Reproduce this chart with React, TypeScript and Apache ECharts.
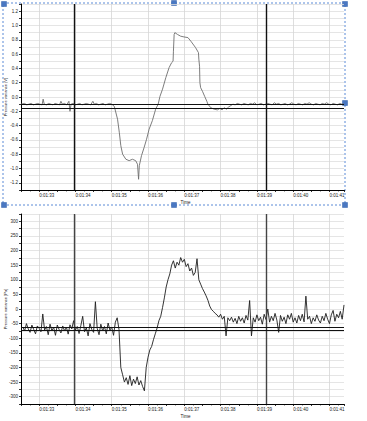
import React, { useEffect, useRef } from "react";
import * as echarts from "echarts";

// Time axis in seconds (0:01:33 = 93 s)
const timeMin = 92.5;
const timeMax = 101.4;
const cursorTimes = [93.96, 99.26];

// Top panel: pressure variance (V)
const topLevels = [-0.1, -0.16];
const topSignal: [number, number][] = [
  [92.5, -0.1], [92.6, -0.09], [92.66, -0.11], [92.72, -0.1], [92.78, -0.09], [92.84, -0.11],
  [92.9, -0.1], [92.96, -0.09], [93.02, -0.1], [93.08, -0.11], [93.11, -0.03], [93.14, -0.1],
  [93.2, -0.11], [93.26, -0.09], [93.32, -0.1], [93.38, -0.11], [93.44, -0.09], [93.5, -0.1],
  [93.56, -0.11], [93.6, -0.06], [93.64, -0.1], [93.7, -0.09], [93.76, -0.11], [93.82, -0.06],
  [93.85, -0.2], [93.88, -0.1], [93.94, -0.09], [94.0, -0.11], [94.06, -0.1], [94.12, -0.09],
  [94.18, -0.11], [94.24, -0.1], [94.3, -0.09], [94.36, -0.1], [94.42, -0.11], [94.48, -0.06],
  [94.52, -0.1], [94.58, -0.09], [94.64, -0.11], [94.7, -0.1], [94.76, -0.09], [94.82, -0.11],
  [94.88, -0.1], [94.94, -0.09], [95.0, -0.1], [95.07, -0.13],
  [95.16, -0.31], [95.21, -0.5], [95.25, -0.68], [95.3, -0.8], [95.39, -0.87], [95.48, -0.89],
  [95.57, -0.87], [95.66, -0.89], [95.71, -0.94], [95.74, -1.15], [95.76, -0.96], [95.82, -0.82],
  [95.89, -0.71], [95.96, -0.59], [96.03, -0.45], [96.12, -0.33], [96.21, -0.17], [96.28, -0.1],
  [96.33, 0.01], [96.4, 0.11], [96.49, 0.27], [96.58, 0.41], [96.65, 0.48], [96.69, 0.5],
  [96.7, 0.64], [96.72, 0.875], [96.74, 0.9], [96.81, 0.875], [96.9, 0.85], [96.99, 0.84],
  [97.1, 0.83], [97.18, 0.78], [97.31, 0.69], [97.39, 0.62], [97.4, 0.53], [97.42, 0.43],
  [97.43, 0.2], [97.45, 0.13], [97.5, 0.08], [97.56, 0.01], [97.62, -0.06], [97.65, -0.1],
  [97.73, -0.15], [97.82, -0.17], [97.91, -0.18], [97.98, -0.16], [98.04, -0.18], [98.1, -0.15],
  [98.16, -0.17], [98.22, -0.14], [98.28, -0.12], [98.34, -0.1], [98.4, -0.11], [98.46, -0.09],
  [98.52, -0.1], [98.58, -0.11], [98.64, -0.09], [98.7, -0.1], [98.76, -0.11], [98.82, -0.09],
  [98.88, -0.1], [98.94, -0.08], [99.0, -0.11], [99.06, -0.1], [99.12, -0.09], [99.18, -0.11],
  [99.24, -0.1], [99.3, -0.09], [99.36, -0.1], [99.42, -0.11], [99.48, -0.08], [99.54, -0.1],
  [99.6, -0.09], [99.66, -0.11], [99.72, -0.1], [99.78, -0.09], [99.84, -0.11], [99.9, -0.1],
  [99.96, -0.08], [100.02, -0.1], [100.08, -0.11], [100.14, -0.09], [100.2, -0.1], [100.26, -0.11],
  [100.32, -0.09], [100.38, -0.1], [100.44, -0.08], [100.5, -0.1], [100.56, -0.11], [100.62, -0.09],
  [100.68, -0.1], [100.74, -0.11], [100.8, -0.09], [100.86, -0.1], [100.92, -0.08], [100.98, -0.1],
  [101.04, -0.11], [101.1, -0.09], [101.16, -0.1], [101.22, -0.11], [101.28, -0.09], [101.34, -0.1],
  [101.4, -0.1],
];

// Bottom panel: pressure variance (Pa), sampled every 0.05 s from 92.55 s
const bottomStart = 92.55;
const bottomStep = 0.05;
const bottomLevels = [-63, -72];
const bottomValues = [
  -62, -75, -50, -68, -80, -55, -70, -85, -58, -66, -78, -17, -72, -60, -88, -52, -74, -63, -90, -55,
  -70, -82, -58, -75, -62, -86, -54, -68, -40, -72, -60, -84, -56, -25, -78, -64, -92, -50, -70, -80,
  25, -66, -88, -52, -75, -60, -85, -48, -72, -62, -90, -45, -30, -70,
  -200, -225, -250, -235, -258, -228, -262, -240, -255, -232, -260, -245, -265, -280, -200, -165,
  -140, -128, -105, -85, -65, -40, -25, 5, 38, 75, 100, 120, 150, 165, 140, 160, 150, 176, 160, 170,
  145, 155, 130, 140, 115, 125, 172, 100, 85, 70, 58, 45, 30, 10, -2, -8, -15, -20, -28, -18,
  -35, -25, -92, -30,
  -40, -28, -45, -32, -50, -25, -42, -30, -48, -22, -38, 29, -92, -30, -45, -20, -40, -28, -52, -18,
  -36, 0, -45, -25, -40, -15, -38, -80, -22, -42, -28, -50, -20, -35, -15, -45, -30, -48, -22, -40,
  -18, -44, 44, -35, -25, -50, -30, -42, -20, -38, -48, -25, -40, -15, -35, -50, -20, -5, -42, -18,
  -30, -8, -35, 14,
];

const topAxisTitle = "Pressure variance (V)";
const bottomAxisTitle = "Pressure variance [Pa]";
const xAxisTitle = "Time";

const FONT = "Liberation Sans";

export default function App() {
  const ref = useRef<HTMLDivElement>(null);
  useEffect(() => {
    document.body.style.margin = "0";
    const chart = echarts.init(ref.current!, null, { renderer: "svg" });
    const bottomSignal = bottomValues.map((v, i) => [bottomStart + i * bottomStep, v]);

    const xAxisCommon = (gridIndex: number) => ({
      type: "value",
      gridIndex,
      min: timeMin,
      max: timeMax,
      interval: 0.5,
      name: xAxisTitle,
      nameLocation: "middle",
      nameGap: 10,
      nameMoveOverlap: false,
      nameTextStyle: { fontSize: 4.5, fontFamily: FONT, color: "#222", padding: [0, 0, 0, 6] },
      axisLine: { show: true, onZero: false, lineStyle: { color: "#000", width: 1 } },
      axisTick: { show: true, length: 2, lineStyle: { color: "#000", width: 0.8 } },
      minorTick: { show: true, splitNumber: 2, length: 1.5, lineStyle: { color: "#000", width: 0.6 } },
      splitLine: { show: true, lineStyle: { color: ["rgba(0,0,0,0)", "#d6d6d6"], width: 0.8 } },
      axisLabel: {
        fontSize: 4.5,
        fontFamily: FONT,
        color: "#222",
        align: "left",
        margin: 3,
        formatter: (v: number) => {
          const r = Math.round(v * 2);
          if (r % 2 !== 0) return "";
          const s = r / 2 - 60;
          return `0:01:${s < 10 ? "0" + s : s}`;
        },
      },
    });

    const yAxisCommon = (
      gridIndex: number,
      min: number,
      max: number,
      interval: number,
      title: string,
      fmt: (v: number) => string
    ) => ({
      type: "value",
      gridIndex,
      min,
      max,
      interval,
      name: title,
      nameLocation: "middle",
      nameGap: 14,
      nameMoveOverlap: false,
      nameTextStyle: { fontSize: 4, fontFamily: FONT, color: "#222" },
      axisLine: { show: true, onZero: false, lineStyle: { color: "#000", width: 1 } },
      axisTick: { show: true, length: 2, lineStyle: { color: "#000", width: 0.8 } },
      splitLine: { show: true, lineStyle: { color: "#dedede", width: 0.8 } },
      axisLabel: {
        fontSize: 4.5,
        fontFamily: FONT,
        color: "#222",
        margin: 3,
        formatter: fmt,
      },
    });

    const markLines = (xs: number[], ys: number[], color: string) => ({
      silent: true,
      symbol: "none",
      label: { show: false },
      animation: false,
      data: [
        ...xs.map((x) => ({ xAxis: x, lineStyle: { color, width: 1.4, type: "solid" } })),
        ...ys.map((y) => ({ yAxis: y, lineStyle: { color: "#111", width: 1, type: "solid" } })),
      ],
    });

    const handles = [
      [4, 4], [174, 3], [345, 4], [345, 103], [4, 205], [174, 205], [345, 205],
    ];

    chart.setOption({
      animation: false,
      backgroundColor: "#fff",
      grid: [
        { left: 21, top: 4, width: 323, height: 186, containLabel: false, outerBoundsMode: "none" },
        { left: 21, top: 214, width: 323, height: 190, containLabel: false, outerBoundsMode: "none" },
      ],
      xAxis: [xAxisCommon(0), xAxisCommon(1)],
      yAxis: [
        yAxisCommon(0, -1.3, 1.3, 0.1, topAxisTitle, (v: number) => {
          const k = Math.round(v * 10);
          return k % 2 !== 0 ? "" : (k / 10).toFixed(1);
        }),
        yAxisCommon(1, -325, 325, 25, bottomAxisTitle, (v: number) => {
          const k = Math.round(v);
          return k % 50 !== 0 ? "" : String(k);
        }),
      ],
      series: [
        {
          type: "line",
          xAxisIndex: 0,
          yAxisIndex: 0,
          data: topSignal,
          showSymbol: false,
          lineStyle: { color: "#6e6e6e", width: 0.9 },
          markLine: markLines(cursorTimes, topLevels, "#111"),
        },
        {
          type: "line",
          xAxisIndex: 1,
          yAxisIndex: 1,
          data: bottomSignal,
          showSymbol: false,
          lineStyle: { color: "#1e1e1e", width: 0.9 },
          markLine: markLines(cursorTimes, bottomLevels, "#444"),
        },
      ],
      graphic: [
        {
          type: "rect",
          silent: true,
          shape: { x: 3, y: 3, width: 342, height: 202 },
          style: { fill: "none", stroke: "#5a8ad6", lineWidth: 1, lineDash: [2, 2] },
        },
        ...handles.map(([x, y]) => ({
          type: "rect",
          silent: true,
          shape: { x: x - 2.5, y: y - 2.5, width: 5, height: 5 },
          style: { fill: "#4a78c2", stroke: "#2f5ea8", lineWidth: 0.5 },
        })),
      ],
    });
    return () => chart.dispose();
  }, []);
  return <div ref={ref} style={{ width: 367, height: 421 }} />;
}
